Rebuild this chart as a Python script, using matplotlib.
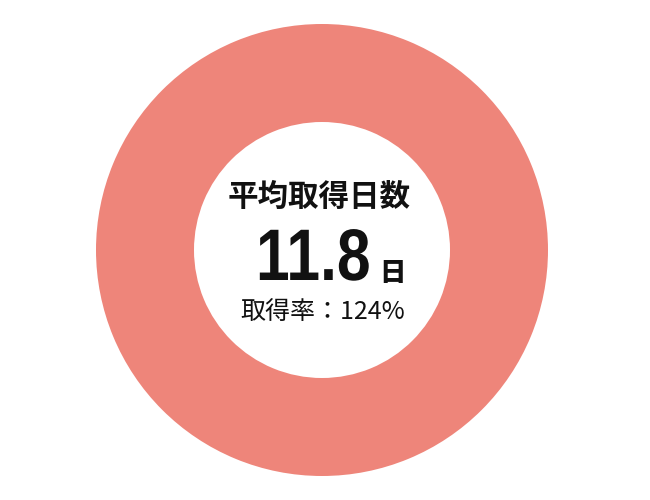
import matplotlib.pyplot as plt
from matplotlib.textpath import TextPath
from matplotlib.patches import PathPatch
from matplotlib.font_manager import FontProperties
from matplotlib.transforms import Affine2D

plt.rcParams['font.family'] = ['Noto Sans CJK JP', 'DejaVu Sans']

# data
label = '平均取得日数'
avg_days = 11.8
unit = '日'
rate_label = '取得率'
rate = 124  # %
ring_values = [min(rate, 100)]  # over 100% -> full ring
ring_color = '#ee857a'

fig = plt.figure(figsize=(6.5, 5), dpi=100)
ax = fig.add_axes([0, 0, 1, 1])

cx, cy, r_out, r_in = 322, 250, 226, 128
ax.pie(ring_values, colors=[ring_color], radius=r_out, center=(cx, cy),
       startangle=90, counterclock=False,
       wedgeprops=dict(width=r_out - r_in, edgecolor='none'))
ax.set_xlim(0, 650)
ax.set_ylim(500, 0)
ax.set_aspect('equal')
ax.axis('off')

ax.text(cx - 3, 197, label, ha='center', va='center', fontsize=22,
        fontweight='bold', color='#111111')

# big number in a condensed look (squeeze Liberation Sans Bold)
tp = TextPath((0, 0), f'{avg_days:.1f}', size=73,
              prop=FontProperties(family='Liberation Sans', weight='bold'))
tr = Affine2D().scale(0.83, -1).translate(256, 280)
ax.add_patch(PathPatch(tr.transform_path(tp), color='#111111', lw=0))

ax.text(379, 281, unit, ha='left', va='baseline', fontsize=19,
        fontweight='heavy', color='#111111')
ax.text(cx + 1, 312, f'{rate_label}：{rate}%', ha='center', va='center',
        fontsize=18, color='#111111')

fig.savefig('out.png', dpi=100)
